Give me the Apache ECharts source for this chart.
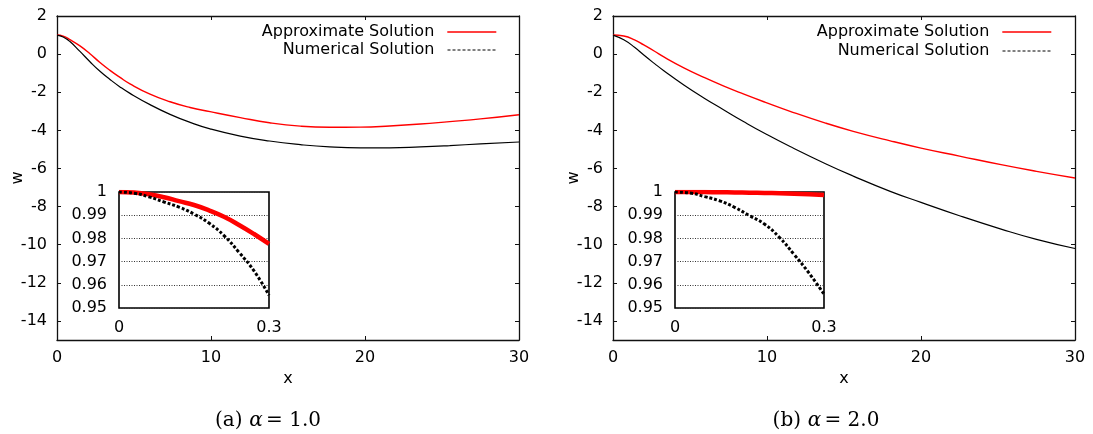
<!DOCTYPE html>
<html>
<head>
<meta charset="utf-8">
<script src="https://cdn.jsdelivr.net/npm/echarts@6/dist/echarts.min.js"></script>
<style>
html,body{margin:0;padding:0;background:#fff;}
#c{width:1093px;height:434px;}
</style>
</head>
<body>
<div id="c"></div>
<script>
// ---------- data ----------
// panel (a) alpha = 1.0, main
const xA = [0, 0.4, 0.84, 1.49, 2.14, 2.79, 3.44, 4.09, 4.74, 6.04, 7.34, 8.64, 9.94, 11.9, 13.8, 15.8, 17.7, 19.7, 21.6, 23.6, 25.5, 27.5, 30];
const approxA = [1.0, 0.94, 0.76, 0.43, 0.02, -0.44, -0.85, -1.22, -1.56, -2.1, -2.5, -2.8, -3.02, -3.33, -3.6, -3.78, -3.84, -3.83, -3.77, -3.67, -3.54, -3.4, -3.18];
const numericA = [1.0, 0.9, 0.66, 0.14, -0.4, -0.9, -1.33, -1.72, -2.06, -2.65, -3.16, -3.58, -3.92, -4.3, -4.56, -4.75, -4.87, -4.92, -4.92, -4.87, -4.8, -4.71, -4.61];
// panel (b) alpha = 2.0, main
const xB = [0, 0.7, 1.4, 2.0, 2.7, 3.3, 4.6, 5.9, 7.2, 8.5, 9.9, 11.5, 13.8, 15.6, 18.0, 20.0, 22.5, 25.2, 27.5, 30];
const approxB = [1.0, 0.95, 0.75, 0.48, 0.15, -0.15, -0.72, -1.22, -1.68, -2.1, -2.53, -3.0, -3.62, -4.05, -4.55, -4.93, -5.35, -5.8, -6.15, -6.5];
const numericB = [1.0, 0.75, 0.36, -0.05, -0.5, -0.87, -1.62, -2.3, -2.93, -3.55, -4.18, -4.85, -5.75, -6.4, -7.2, -7.78, -8.48, -9.18, -9.72, -10.2];
// insets (0 .. 0.3)
const xIn = [0, 0.03, 0.06, 0.09, 0.12, 0.15, 0.18, 0.21, 0.24, 0.27, 0.3];
const approxInA = [1.0, 0.99975, 0.9990, 0.99775, 0.99605, 0.9944, 0.9921, 0.9893, 0.9858, 0.9819, 0.9776];
const numericInA = [1.0, 0.9995, 0.9979, 0.9957, 0.9935, 0.9905, 0.9866, 0.9812, 0.974, 0.966, 0.9555];
const approxInB = [1.0, 0.99999, 0.99996, 0.9999, 0.99982, 0.99972, 0.9996, 0.99945, 0.99925, 0.999, 0.9987];
const numericInB = [1.0, 0.9996, 0.998, 0.9962, 0.9934, 0.9898, 0.9862, 0.9805, 0.973, 0.965, 0.956];
// ticks
const mainYTicks = [-14, -12, -10, -8, -6, -4, -2, 0, 2];
const seriesNames = ['Approximate Solution', 'Numerical Solution'];
const captions = ['(a)', '(b)'];
const alphas = ['1.0', '2.0'];

// ---------- helpers ----------
const zip = (xs, ys) => xs.map((x, i) => [x, ys[i]]);
const FONT = 'DejaVu Sans';
const AX = '#111';
const RED = '#ff0000';

const grids = [
  {left: 57, top: 16, width: 462, height: 324},
  {left: 119, top: 192, width: 150, height: 116, show: true, backgroundColor: '#fff', borderColor: '#000', borderWidth: 1.6, z: 5},
  {left: 613, top: 16, width: 462, height: 324},
  {left: 675, top: 192, width: 149, height: 116, show: true, backgroundColor: '#fff', borderColor: '#000', borderWidth: 1.6, z: 5}
];

function mainX(gi, pos) {
  return {
    type: 'value', gridIndex: gi, position: pos, min: 0, max: 30, interval: 10,
    axisLine: {show: true, onZero: false, lineStyle: {color: AX, width: 1.3}},
    axisTick: {show: true, inside: true, length: 4, lineStyle: {color: AX, width: 1}},
    axisLabel: {show: pos === 'bottom', color: '#000', fontFamily: FONT, fontSize: 16, margin: 10},
    splitLine: {show: false},
    name: pos === 'bottom' ? 'x' : '', nameLocation: 'middle', nameGap: 31, nameMoveOverlap: false,
    nameTextStyle: {color: '#000', fontFamily: FONT, fontSize: 16}
  };
}
function mainY(gi, pos) {
  return {
    type: 'value', gridIndex: gi, position: pos, min: -15, max: 2, interval: 1,
    axisLine: {show: true, onZero: false, lineStyle: {color: AX, width: 1.3}},
    axisTick: {show: true, inside: true, length: 4, customValues: mainYTicks, lineStyle: {color: AX, width: 1}},
    axisLabel: {show: pos === 'left', customValues: mainYTicks, color: '#000', fontFamily: FONT, fontSize: 16, margin: 10},
    splitLine: {show: false},
    name: pos === 'left' ? 'w' : '', nameLocation: 'middle', nameGap: 31, nameMoveOverlap: false,
    nameTextStyle: {color: '#000', fontFamily: FONT, fontSize: 16}
  };
}
function insetX(gi) {
  return {
    type: 'value', gridIndex: gi, min: 0, max: 0.3, interval: 0.3, z: 6,
    axisLine: {show: false}, axisTick: {show: false},
    axisLabel: {color: '#000', fontFamily: FONT, fontSize: 16, margin: 12},
    splitLine: {show: false}
  };
}
function insetY(gi) {
  return {
    type: 'value', gridIndex: gi, min: 0.95, max: 1, interval: 0.01, z: 6,
    axisLine: {show: false}, axisTick: {show: false},
    axisLabel: {color: '#000', fontFamily: FONT, fontSize: 16, margin: 12},
    splitLine: {show: true, lineStyle: {color: '#333', width: 1, type: [1, 1.5]}}
  };
}

const xAxes = [mainX(0, 'bottom'), mainX(0, 'top'), insetX(1), mainX(2, 'bottom'), mainX(2, 'top'), insetX(3)];
const yAxes = [mainY(0, 'left'), mainY(0, 'right'), insetY(1), mainY(2, 'left'), mainY(2, 'right'), insetY(3)];

function line(name, xi, yi, data, color, width, type, z) {
  return {
    type: 'line', name: name, xAxisIndex: xi, yAxisIndex: yi, data: data,
    symbol: 'none', smooth: 0.5, animation: false, silent: true, z: z || 2,
    lineStyle: {color: color, width: width, type: type || 'solid', cap: 'butt'},
    itemStyle: {color: color}
  };
}

const series = [
  line(seriesNames[0], 0, 0, zip(xA, approxA), RED, 1.4),
  line(seriesNames[1], 0, 0, zip(xA, numericA), '#000', 1.2),
  line(seriesNames[0], 2, 2, zip(xIn, approxInA), RED, 4.5, 'solid', 10),
  line(seriesNames[1], 2, 2, zip(xIn, numericInA), '#000', 3, [3, 2], 11),
  line(seriesNames[0], 3, 3, zip(xB, approxB), RED, 1.4),
  line(seriesNames[1], 3, 3, zip(xB, numericB), '#000', 1.2),
  line(seriesNames[0], 5, 5, zip(xIn, approxInB), RED, 4.5, 'solid', 10),
  line(seriesNames[1], 5, 5, zip(xIn, numericInB), '#000', 3, [3, 2], 11)
];

function legendItem(nameIdx, right, top) {
  const ls = nameIdx === 0
    ? {color: RED, width: 1.4, type: 'solid'}
    : {color: '#000', width: 1, type: [3, 2]};
  return {
    show: true, orient: 'vertical', align: 'right', right: right, top: top, padding: 0,
    itemWidth: 49, itemHeight: 14, selectedMode: false,
    textStyle: {color: '#000', fontFamily: FONT, fontSize: 16, padding: [0, 8, 0, 0]},
    data: [{name: seriesNames[nameIdx], lineStyle: ls, itemStyle: {color: 'rgba(0,0,0,0)', opacity: 0, borderWidth: 0}}]
  };
}

const legends = [
  legendItem(0, 596, 24), legendItem(1, 596, 42),
  legendItem(0, 41, 24), legendItem(1, 41, 43)
];

const graphics = [268, 826].map((cx, i) => ({
  type: 'text', x: cx, y: 421, silent: true,
  style: {
    text: '{n|' + captions[i] + '}  {i|α} {n|= ' + alphas[i] + '}',
    align: 'center', verticalAlign: 'middle',
    rich: {
      n: {fontFamily: 'DejaVu Serif', fontSize: 20, fill: '#000'},
      i: {fontFamily: 'DejaVu Serif', fontStyle: 'italic', fontSize: 20, fill: '#000'}
    }
  }
}));

const chart = echarts.init(document.getElementById('c'), null, {renderer: 'canvas'});
chart.setOption({
  backgroundColor: '#fff',
  animation: false,
  grid: grids,
  xAxis: xAxes,
  yAxis: yAxes,
  legend: legends,
  series: series,
  graphic: graphics
});
</script>
</body>
</html>
